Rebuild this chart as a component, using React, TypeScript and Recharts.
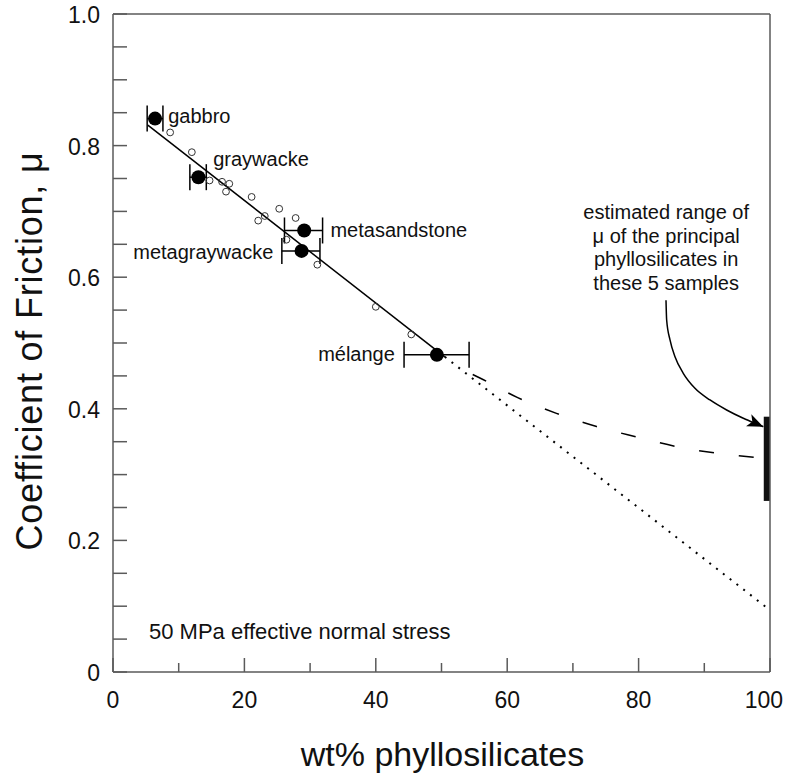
import React from "react";
import { ComposedChart, XAxis, YAxis, Line, Scatter, ErrorBar, ReferenceArea, Label } from "recharts";

const FONT = "'Liberation Sans', Arial, Helvetica, sans-serif";
const AXIS = "#5a5a5a";
const INK = "#111";

// Samples with error bars (big black dots)
const sampleNames = ["gabbro", "graywacke", "metasandstone", "metagraywacke", "mélange"];
const sampleX = [6.4, 13.0, 29.1, 28.7, 49.3];
const sampleMu = [0.841, 0.752, 0.671, 0.64, 0.482];
const sampleXErr = [[1.2, 1.2], [1.3, 1.2], [3.0, 2.8], [3.0, 2.8], [5.0, 4.9]];

// Other measurements (small open circles)
const otherX = [8.7, 12.0, 14.7, 16.6, 17.7, 17.2, 21.1, 25.3, 23.1, 22.1, 27.8, 26.4, 31.1, 40.0, 45.4];
const otherMu = [0.82, 0.79, 0.747, 0.745, 0.742, 0.73, 0.722, 0.704, 0.693, 0.686, 0.69, 0.657, 0.619, 0.555, 0.513];

// Fit line, linear extrapolation and curved (dashed) trend
const fitX = [5.3, 50.5];
const fitMu = [0.831, 0.479];
const extrapX = [50.5, 100];
const extrapMu = [0.479, 0.094];
const mixX = [52, 56, 61.6, 67.5, 73.6, 79.8, 86, 92.3, 100];
const mixMu = [0.465, 0.446, 0.417, 0.393, 0.373, 0.357, 0.342, 0.332, 0.324];

// Estimated range of mu for phyllosilicates
const rangeX = [99.05, 100];
const rangeMu = [0.26, 0.388];

// Annotation arrow path
const arrowX = [84.17, 84.27, 84.78, 85.54, 86.8, 88.58, 90.87, 93.4, 95.94, 97.98, 98.98];
const arrowMu = [0.565, 0.535, 0.5046, 0.4792, 0.454, 0.4312, 0.4134, 0.3982, 0.3856, 0.3769, 0.3728];

// Text labels (data coordinates)
const startLabels = ["gabbro", "graywacke", "metasandstone"];
const startLabelX = [8.4, 15.25, 33.1];
const startLabelMu = [0.845, 0.78, 0.671];
const endLabels = ["metagraywacke", "mélange"];
const endLabelX = [24.4, 42.9];
const endLabelMu = [0.639, 0.483];
const stressNote = ["50 MPa effective normal stress"];
const stressNoteX = [5.48];
const stressNoteMu = [0.061];
const noteLines = ["estimated range of", "μ of the principal", "phyllosilicates in", "these 5 samples"];
const noteX = 84.2;
const noteMu = [0.699, 0.663, 0.628, 0.591];

// Ticks
const xTicks = [0, 10, 20, 30, 40, 50, 60, 70, 80, 90, 100];
const xLabelTicks = [0, 20, 40, 60, 80, 100];
const xTickLabels = ["0", "20", "40", "60", "80", "100"];
const yTicks = [0, 0.05, 0.1, 0.15, 0.2, 0.25, 0.3, 0.35, 0.4, 0.45, 0.5, 0.55, 0.6, 0.65, 0.7, 0.75, 0.8, 0.85, 0.9, 0.95, 1.0];
const yLabelTicks = [0, 0.2, 0.4, 0.6, 0.8, 1.0];
const yTickLabels = ["0", "0.2", "0.4", "0.6", "0.8", "1.0"];
const yMajorTicks = [0, 0.1, 0.2, 0.3, 0.4, 0.5, 0.6, 0.7, 0.8, 0.9, 1.0];

const xLabel = "wt% phyllosilicates";
const yLabel = "Coefficient of Friction, μ";

const samples = sampleNames.map((n, i) => ({ name: n, x: sampleX[i], mu: sampleMu[i], err: sampleXErr[i] }));
const others = otherX.map((x, i) => ({ x, mu: otherMu[i] }));
const fit = fitX.map((x, i) => ({ x, mu: fitMu[i] }));
const extrap = extrapX.map((x, i) => ({ x, mu: extrapMu[i] }));
const mix = mixX.map((x, i) => ({ x, mu: mixMu[i] }));
const arrow = arrowX.map((x, i) => ({ x, mu: arrowMu[i] }));
const arrowTip = [{ x: arrowX[arrowX.length - 1], mu: arrowMu[arrowMu.length - 1] }];
const startLbl = startLabels.map((t, i) => ({ text: t, x: startLabelX[i], mu: startLabelMu[i] }));
const endLbl = endLabels.map((t, i) => ({ text: t, x: endLabelX[i], mu: endLabelMu[i] }));
const stressLbl = stressNote.map((t, i) => ({ text: t, x: stressNoteX[i], mu: stressNoteMu[i] }));
const notes = noteLines.map((t, i) => ({ text: t, x: noteX, mu: noteMu[i] }));

const near = (a: number, b: number) => Math.abs(a - b) < 1e-6;
const findIdx = (arr: number[], v: number) => arr.findIndex((t) => near(t, v));

const BottomTick = (p: any) => {
  const { x, y, payload } = p;
  const i = findIdx(xLabelTicks, payload.value);
  const last = i === xLabelTicks.length - 1;
  return (
    <g>
      <line x1={x} x2={x} y1={y} y2={y - (i >= 0 ? 14 : 9)} stroke={AXIS} strokeWidth={1.5} />
      {i >= 0 && (
        <text
          x={last ? x + 13 : x}
          y={y + 36}
          textAnchor={last ? "end" : "middle"}
          fontSize={23}
          fontFamily={FONT}
          fill={INK}
        >
          {xTickLabels[i]}
        </text>
      )}
    </g>
  );
};

const TopTick = (p: any) => {
  const { x, y, payload } = p;
  const i = findIdx(xLabelTicks, payload.value);
  return <line x1={x} x2={x} y1={y} y2={y + (i >= 0 ? 14 : 9)} stroke={AXIS} strokeWidth={1.5} />;
};

const LeftTick = (p: any) => {
  const { x, y, payload } = p;
  const i = findIdx(yLabelTicks, payload.value);
  return (
    <g>
      <line x1={x} x2={x + 14} y1={y} y2={y} stroke={AXIS} strokeWidth={1.5} />
      {i >= 0 && (
        <text x={x - 13} y={y + 9} textAnchor="end" fontSize={23} fontFamily={FONT} fill={INK}>
          {yTickLabels[i]}
        </text>
      )}
    </g>
  );
};

const RightTick = (p: any) => {
  const { x, y, payload } = p;
  const major = findIdx(yMajorTicks, payload.value) >= 0;
  return <line x1={x} x2={x - (major ? 14 : 9)} y1={y} y2={y} stroke={AXIS} strokeWidth={1.5} />;
};

const BigDot = (p: any) => <circle cx={p.cx} cy={p.cy} r={7} fill="#000" />;
const OpenDot = (p: any) => <circle cx={p.cx} cy={p.cy} r={3.4} fill="none" stroke="#333" strokeWidth={1} />;
const makeText = (anchor: "start" | "end" | "middle", size: number) => (p: any) => (
  <text x={p.cx} y={p.cy} dominantBaseline="central" textAnchor={anchor} fontSize={size} fontFamily={FONT} fill={INK}>
    {p.payload.text}
  </text>
);
const StartText = makeText("start", 20);
const EndText = makeText("end", 20);
const MidText = makeText("middle", 20);
const StressText = makeText("start", 22);
const ArrowHead = (p: any) => (
  <path d="M0,0 L-16,-6.5 L-12,0 L-16,6.5 Z" fill="#000" transform={`translate(${p.cx},${p.cy}) rotate(24)`} />
);

export default function App() {
  return (
    <div style={{ position: "absolute", left: 0, top: 0, width: 787, height: 774, background: "#fff" }}>
      <ComposedChart width={787} height={774} margin={{ top: 13, right: 16, bottom: 0, left: 0 }}>
        <XAxis
          xAxisId={0}
          dataKey="x"
          type="number"
          domain={[0, 100]}
          ticks={xTicks}
          interval={0}
          height={102}
          tickSize={0}
          tickMargin={0}
          tickLine={false}
          tick={<BottomTick />}
          axisLine={{ stroke: AXIS, strokeWidth: 1.5 }}
          allowDataOverflow
        >
          <Label
            content={(props: any) => {
              const vb = props.viewBox;
              return (
                <text x={vb.x + vb.width / 2 + 1} y={vb.y + 94} textAnchor="middle" fontSize={34} fontFamily={FONT} fill={INK}>
                  {xLabel}
                </text>
              );
            }}
          />
        </XAxis>
        <XAxis
          xAxisId="top"
          orientation="top"
          dataKey="x"
          type="number"
          domain={[0, 100]}
          ticks={xTicks}
          interval={0}
          height={1}
          tickSize={0}
          tickMargin={0}
          tickLine={false}
          tick={<TopTick />}
          axisLine={{ stroke: AXIS, strokeWidth: 1.5 }}
        />
        <YAxis
          yAxisId={0}
          type="number"
          domain={[0, 1]}
          ticks={yTicks}
          interval={0}
          width={113}
          tickSize={0}
          tickMargin={0}
          tickLine={false}
          tick={<LeftTick />}
          axisLine={{ stroke: AXIS, strokeWidth: 1.5 }}
          allowDataOverflow
        >
          <Label
            content={(props: any) => {
              const vb = props.viewBox;
              const cy = vb.y + vb.height / 2 + 8;
              return (
                <text
                  x={42}
                  y={cy}
                  transform={`rotate(-90, 42, ${cy})`}
                  textAnchor="middle"
                  fontSize={36}
                  letterSpacing={0.8}
                  fontFamily={FONT}
                  fill={INK}
                >
                  {yLabel}
                </text>
              );
            }}
          />
        </YAxis>
        <YAxis
          yAxisId="right"
          orientation="right"
          type="number"
          domain={[0, 1]}
          ticks={yTicks}
          interval={0}
          width={1}
          tickSize={0}
          tickMargin={0}
          tickLine={false}
          tick={<RightTick />}
          axisLine={{ stroke: AXIS, strokeWidth: 1.5 }}
        />

        <ReferenceArea x1={rangeX[0]} x2={rangeX[1]} y1={rangeMu[0]} y2={rangeMu[1]} fill="#111" fillOpacity={1} stroke="none" ifOverflow="visible" />

        <Line data={fit} dataKey="mu" type="linear" stroke="#000" strokeWidth={1.5} dot={false} activeDot={false} isAnimationActive={false} />
        <Line data={extrap} dataKey="mu" type="linear" stroke="#000" strokeWidth={2} strokeDasharray="2 6.6" dot={false} activeDot={false} isAnimationActive={false} />
        <Line data={mix} dataKey="mu" type="monotone" stroke="#000" strokeWidth={1.5} strokeDasharray="15 25" strokeDashoffset={20} dot={false} activeDot={false} isAnimationActive={false} />
        <Line data={arrow} dataKey="mu" type="monotone" stroke="#000" strokeWidth={1.5} dot={false} activeDot={false} isAnimationActive={false} />

        <Scatter data={others} dataKey="mu" shape={<OpenDot />} isAnimationActive={false} />
        <Scatter data={samples} dataKey="mu" shape={<BigDot />} isAnimationActive={false}>
          <ErrorBar dataKey="err" direction="x" width={13} stroke="#000" strokeWidth={1.5} isAnimationActive={false} />
        </Scatter>
        <Scatter data={arrowTip} dataKey="mu" shape={<ArrowHead />} isAnimationActive={false} />
        <Scatter data={startLbl} dataKey="mu" shape={<StartText />} isAnimationActive={false} />
        <Scatter data={endLbl} dataKey="mu" shape={<EndText />} isAnimationActive={false} />
        <Scatter data={stressLbl} dataKey="mu" shape={<StressText />} isAnimationActive={false} />
        <Scatter data={notes} dataKey="mu" shape={<MidText />} isAnimationActive={false} />
      </ComposedChart>
    </div>
  );
}
